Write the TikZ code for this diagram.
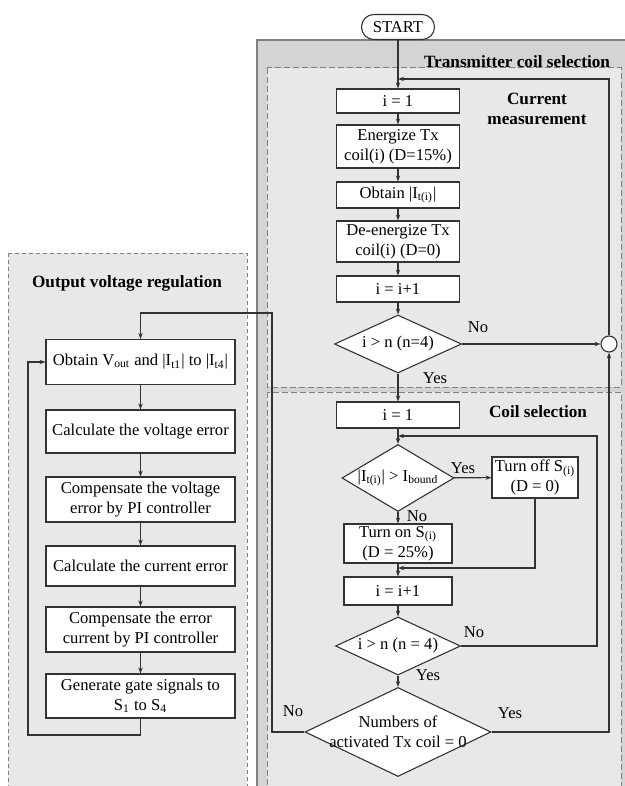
\documentclass[tikz,border=0pt]{standalone}
\usepackage{fontspec}
\setmainfont{Liberation Serif}
\usetikzlibrary{shapes.geometric, arrows.meta}

\begin{document}
\begin{tikzpicture}[x=0.5pt, y=-0.5pt,
    font=\fontsize{8.3}{9.8}\selectfont,
    line/.style={draw=black!80, line width=0.55pt},
    arr/.style={line, -{Stealth[length=3pt, width=2.2pt]}},
    proc/.style={line, fill=white, rectangle, align=center, inner sep=1pt},
    procr/.style={proc, minimum width=61.5pt},
    procl/.style={proc, minimum width=94.5pt},
    dec/.style={line, fill=white, diamond, align=center, inner sep=0pt},
    term/.style={line, fill=white, rounded corners=6.2pt, minimum width=36.5pt, minimum height=12.5pt, inner sep=1pt},
    ttl/.style={font=\fontsize{8.6}{10.4}\selectfont\bfseries, align=center},
    panel/.style={fill=black!9, draw=black!50, line width=0.5pt, dash pattern=on 3pt off 1.5pt}]
    \clip (0,0) rectangle (625,786);
    \filldraw[fill=black!17, draw=black!50, line width=0.6pt] (257,40) rectangle (640,800);
    \filldraw[panel] (267,68) rectangle (621,387);
    \filldraw[panel] (267,392) rectangle (621,800);
    \filldraw[panel, dash pattern=on 2pt off 1.5pt] (8,253) rectangle (247,800);
    \node[ttl] (tsel) at (517,62) {Transmitter coil selection};
    \node[ttl] (tmeas) at (537,109) {Current\\measurement};
    \node[ttl] (tcoil) at (538,412) {Coil selection};
    \node[ttl] (tvolt) at (127,283) {Output voltage regulation};

    \node[term] (start) at (398,27) {START};
    \node[procr, minimum height=12pt] (ia) at (398,101) {i = 1};
    \node[procr, minimum height=21.5pt] (enrg) at (398,146.5) {Energize Tx\\coil(i) (D=15\%)};
    \node[procr, minimum height=13pt] (meas) at (398,195) {Obtain |I\textsubscript{t(i)}|};
    \node[procr, minimum height=20.5pt] (denrg) at (398,241.5) {De-energize Tx\\coil(i) (D=0)};
    \node[procr, minimum height=13pt] (inca) at (398,289) {i = i+1};
    \node[dec, minimum width=63.5pt, minimum height=29pt, aspect=2.19] (chka) at (398,344) {i > n (n=4)};
    \node[circle, line, fill=white, minimum size=8pt, inner sep=0pt] (sum) at (609,344) {};
    \node[procr, minimum height=13pt] (ib) at (398,415) {i = 1};
    \node[dec, minimum width=56pt, minimum height=33.5pt, aspect=1.67] (chkb) at (398,478) {|I\textsubscript{t(i)}| > I\textsubscript{bound}};
    \node[proc, minimum width=43pt, minimum height=20.5pt] (off) at (535,477.5) {Turn off S\textsubscript{(i)}\\(D = 0)};
    \node[proc, minimum width=54pt, minimum height=19.5pt] (on) at (398,543.5) {Turn on S\textsubscript{(i)}\\(D = 25\%)};
    \node[proc, minimum width=54pt, minimum height=14pt] (incb) at (398,591) {i = i+1};
    \node[dec, minimum width=62.5pt, minimum height=29pt, aspect=2.16] (chkc) at (398,646) {i > n (n = 4)};
    \node[dec, minimum width=93pt, minimum height=44.5pt, aspect=2.09, inner sep=-5pt] (chkd) at (398,732) {Numbers of\\activated Tx coil = 0};

    \node[procl, minimum height=22.5pt] (vobt) at (140.5,362) {Obtain V\textsubscript{out} and |I\textsubscript{t1}| to |I\textsubscript{t4}|};
    \node[procl, minimum height=21.5pt] (verr) at (140.5,431.5) {Calculate the voltage error};
    \node[procl, minimum height=22.5pt] (vpi) at (140.5,499.5) {Compensate the voltage\\error by PI controller};
    \node[procl, minimum height=20pt] (ierr) at (140.5,566) {Calculate the current error};
    \node[procl, minimum height=22.5pt] (ipi) at (140.5,629.5) {Compensate the error\\current by PI controller};
    \node[procl, minimum height=22pt] (gate) at (140.5,696) {Generate gate signals to\\S\textsubscript{1} to S\textsubscript{4}};

    \node (noa) at (478,327) {No};
    \node (yesa) at (435,378) {Yes};
    \node (yesb) at (463,468) {Yes};
    \node (nob) at (417,516) {No};
    \node (noc) at (474,632) {No};
    \node (yesc) at (428,675) {Yes};
    \node (nod) at (293,711) {No};
    \node (yesd) at (510,713) {Yes};

    \coordinate (fba) at (398,79);
    \coordinate (fbb) at (398,436);
    \coordinate (rtb) at (597,646);
    \coordinate (jnb) at (398,568);
    \coordinate (lfa) at (272,313);
    \coordinate (lfb) at (28,735);

    \draw[arr] (start) -- (ia);
    \draw[arr] (ia) -- (enrg);
    \draw[arr] (enrg) -- (meas);
    \draw[arr] (meas) -- (denrg);
    \draw[arr] (denrg) -- (inca);
    \draw[arr] (inca) -- (chka);
    \draw[arr] (chka) -- (sum);
    \draw[arr] (sum) |- (fba);
    \draw[arr] (chka) -- (ib);
    \draw[arr] (ib) -- (chkb);
    \draw[arr] (chkb) -- (off);
    \draw[arr] (chkb) -- (on);
    \draw[arr] (off) |- (jnb);
    \draw[arr] (on) -- (incb);
    \draw[arr] (incb) -- (chkc);
    \draw[arr] (chkc.east) -- (rtb) |- (fbb);
    \draw[arr] (chkc) -- (chkd);
    \draw[arr] (chkd.east) -| (sum.south);
    \draw[arr] (chkd.west) -| (lfa) -| (vobt.north);
    \draw[arr] (vobt) -- (verr);
    \draw[arr] (verr) -- (vpi);
    \draw[arr] (vpi) -- (ierr);
    \draw[arr] (ierr) -- (ipi);
    \draw[arr] (ipi) -- (gate);
    \draw[arr] (gate.south) |- (lfb) |- (vobt.west);
\end{tikzpicture}
\end{document}
